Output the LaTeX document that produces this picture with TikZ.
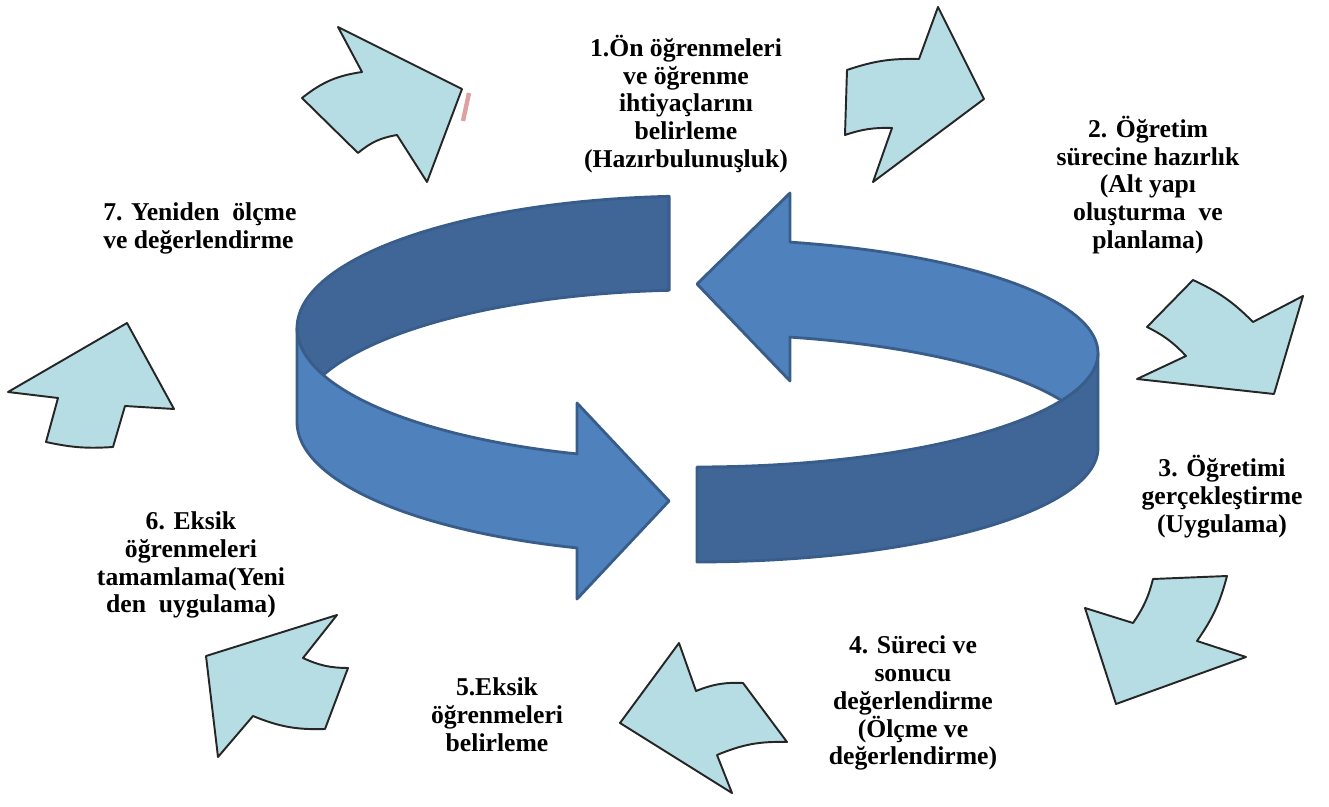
\documentclass[tikz,border=0pt]{standalone}
\usepackage{fontspec}
\setmainfont{Liberation Serif}
\usetikzlibrary{positioning}
\definecolor{paleblue}{RGB}{181,221,227}
\definecolor{ringlight}{RGB}{79,129,189}
\definecolor{ringdark}{RGB}{64,102,152}
\definecolor{ringline}{RGB}{56,93,138}
\definecolor{pinkmark}{RGB}{222,160,160}

\begin{document}
\begin{tikzpicture}[
    x=0.02cm, y=-0.02cm,
    steparrow/.style={draw=black!85, fill=paleblue, line width=1.1pt, line join=round},
    ringband/.style={draw=ringline, line width=1.6pt, line join=round},
    steptext/.style={font=\fontsize{14.6}{15.9}\selectfont\bfseries, align=center, inner sep=0pt}
]
\useasboundingbox (0,0) rectangle (1329,807);

% central ring, left half
\draw[ringband, fill=ringdark]
    plot[domain=266:159.2, samples=50, variable=\t] ({697+400*cos(\t)},{328+132*sin(\t)})
    -- plot[domain=200.8:266, samples=50, variable=\t] ({697+400*cos(\t)},{422+132*sin(\t)})
    -- cycle;
\draw[ringband, fill=ringlight]
    plot[domain=180:107.46, samples=50, variable=\t] ({697+400*cos(\t)},{328+132*sin(\t)})
    -- (577,403) -- (669,501) -- (577,599)
    -- plot[domain=107.46:180, samples=50, variable=\t] ({697+400*cos(\t)},{422+132*sin(\t)})
    -- cycle;

% central ring, right half
\draw[ringband, fill=ringdark]
    plot[domain=90:0, samples=50, variable=\t] ({697+401*cos(\t)},{353+114*sin(\t)})
    -- plot[domain=0:90, samples=50, variable=\t] ({697+401*cos(\t)},{448+114*sin(\t)})
    -- cycle;
\draw[ringband, fill=ringlight]
    plot[domain=283.4:384.6, samples=50, variable=\t] ({697+401*cos(\t)},{353+114*sin(\t)})
    -- plot[domain=335.4:283.4, samples=50, variable=\t] ({697+401*cos(\t)},{448+114*sin(\t)})
    -- (790,381) -- (697,284) -- (790,193)
    -- cycle;

% outer step arrows
\draw[steparrow] (338,27) -- (362,72) to[bend right=15] (302,98) -- (358,153)
    to[bend left=15] (397,135) -- (427,182) -- (462,89) -- cycle;
\draw[pinkmark, line width=2.5pt] (469,93) -- (463,121);
\draw[steparrow] (938,7) -- (984,99) -- (873,182) -- (892,128) to[bend right=10] (845,135)
    -- (847,70) to[bend left=10] (919,59) -- cycle;
\draw[steparrow] (1193,280) to[bend left=10] (1253,322) -- (1303,296) -- (1274,394)
    -- (1137,379) -- (1186,356) to[bend right=10] (1147,327) -- cycle;
\draw[steparrow] (1153,579) -- (1227,576) to[bend left=10] (1197,641) -- (1246,657)
    -- (1116,704) -- (1085,608) -- (1133,623) to[bend right=10] cycle;
\draw[steparrow] (679,643) -- (696,691) to[bend left=12] (743,683) -- (787,742)
    to[bend right=12] (717,755) -- (732,793) -- (620,723) -- cycle;
\draw[steparrow] (337,615) -- (303,658) to[bend right=12] (348,668) -- (325,729)
    to[bend left=12] (253,716) -- (218,757) -- (206,656) -- cycle;
\draw[steparrow] (127,323) -- (174,409) -- (125,406) -- (113,447) to[bend left=8] (46,442)
    -- (58,398) -- (8,392) -- cycle;

% step texts
\node[steptext] (s1) at (686,104) {1.Ön öğrenmeleri\\ve öğrenme\\ihtiyaçlarını\\belirleme\\(Hazırbulunuşluk)};
\node[steptext] (s2) at (1148,185) {2. Öğretim\\sürecine hazırlık\\(Alt yapı\\oluşturma\ \ ve\\planlama)};
\node[steptext] (s3) at (1222,497) {3. Öğretimi\\gerçekleştirme\\(Uygulama)};
\node[steptext] (s4) at (913,703) {4. Süreci ve\\sonucu\\değerlendirme\\(Ölçme ve\\değerlendirme)};
\node[steptext] (s5) at (497,715) {5.Eksik\\öğrenmeleri\\belirleme};
\node[steptext] (s6) at (191,565) {6. Eksik\\öğrenmeleri\\tamamlama(Yeni\\den\ \ uygulama)};
\node[steptext, align=left, anchor=west] (s7) at (103,228) {7. Yeniden\ \ ölçme\\ve değerlendirme};

\end{tikzpicture}
\end{document}
